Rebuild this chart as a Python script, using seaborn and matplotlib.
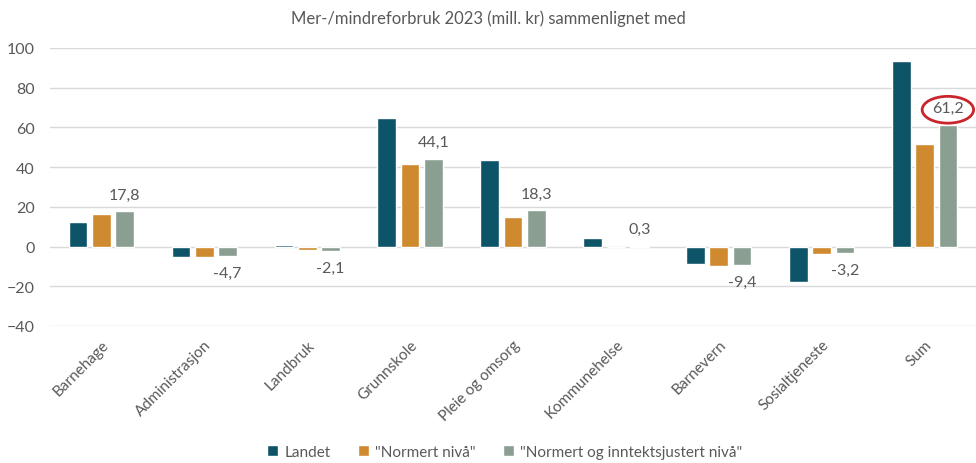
import numpy as np
import pandas as pd
import matplotlib
matplotlib.use('Agg')
import matplotlib.pyplot as plt
import seaborn as sns
from matplotlib.patches import Ellipse

# data (mill. kr)
categories = ['Barnehage', 'Administrasjon', 'Landbruk', 'Grunnskole', 'Pleie og omsorg',
              'Kommunehelse', 'Barnevern', 'Sosialtjeneste', 'Sum']
series_names = ['Landet', '"Normert nivå"', '"Normert og inntektsjustert nivå"']
landet = [12.5, -5.5, 0.8, 64.7, 43.8, 4.5, -8.6, -17.6, 93.3]
normert = [16.4, -5.5, -1.8, 41.4, 15.0, 0.0, -9.8, -3.7, 51.7]
inntektsjustert = [17.8, -4.7, -2.1, 44.1, 18.3, 0.3, -9.4, -3.2, 61.2]
colors = ['#0D5469', '#CF8A2F', '#8B9E92']

sns.set_style('white')
plt.rcParams['font.family'] = ['Lato', 'DejaVu Sans']
text_col = '#595959'

df = pd.DataFrame({
    'kategori': categories * 3,
    'serie': [series_names[0]] * 9 + [series_names[1]] * 9 + [series_names[2]] * 9,
    'verdi': landet + normert + inntektsjustert,
})

fig = plt.figure(figsize=(9.76, 4.64), dpi=100)
ax = fig.add_axes([50 / 976, 1 - 327 / 464, 926 / 976, 278 / 464])

sns.barplot(data=df, x='kategori', y='verdi', hue='serie', palette=colors,
            width=0.68, gap=0.2, ax=ax, errorbar=None, saturation=1)

ax.set_ylim(-40, 100)
ax.set_xlim(-0.5, 8.5)
ax.set_yticks(np.arange(-40, 101, 20))
ax.yaxis.grid(True, color='#D9D9D9', lw=1)
ax.set_axisbelow(True)
for s in ax.spines.values():
    s.set_visible(False)
ax.set_xlabel('')
ax.set_ylabel('')
ax.tick_params(axis='y', length=0, pad=11, labelsize=11.5, labelcolor=text_col)
ax.tick_params(axis='x', length=0, pad=8, labelsize=11, labelcolor=text_col)
plt.setp(ax.get_xticklabels(), rotation=45, ha='right', rotation_mode='anchor')

# labels on the third series only
labs = [f'{v:.1f}'.replace('.', ',') for v in inntektsjustert]
ax.bar_label(ax.containers[2], labels=labs, padding=7, fontsize=11.5, color=text_col)

# red ring around the Sum label
sum_bar = ax.containers[2][8]
cx = sum_bar.get_x() + sum_bar.get_width() / 2
ax.add_patch(Ellipse((cx, inntektsjustert[8] + 7.7), 0.5, 13.5, fill=False,
                     edgecolor='#C8262C', lw=2, clip_on=False))

sns.move_legend(ax, 'center', bbox_to_anchor=(0.491, -0.453), ncol=3, frameon=False,
                title=None, fontsize=11, handlelength=0.7, handleheight=0.7,
                handletextpad=0.4, columnspacing=1.8, labelcolor=text_col)

fig.text(0.5, 0.96, 'Mer-/mindreforbruk 2023 (mill. kr) sammenlignet med', ha='center',
         va='center', fontsize=12, color=text_col)

fig.savefig('out.png', dpi=100)
